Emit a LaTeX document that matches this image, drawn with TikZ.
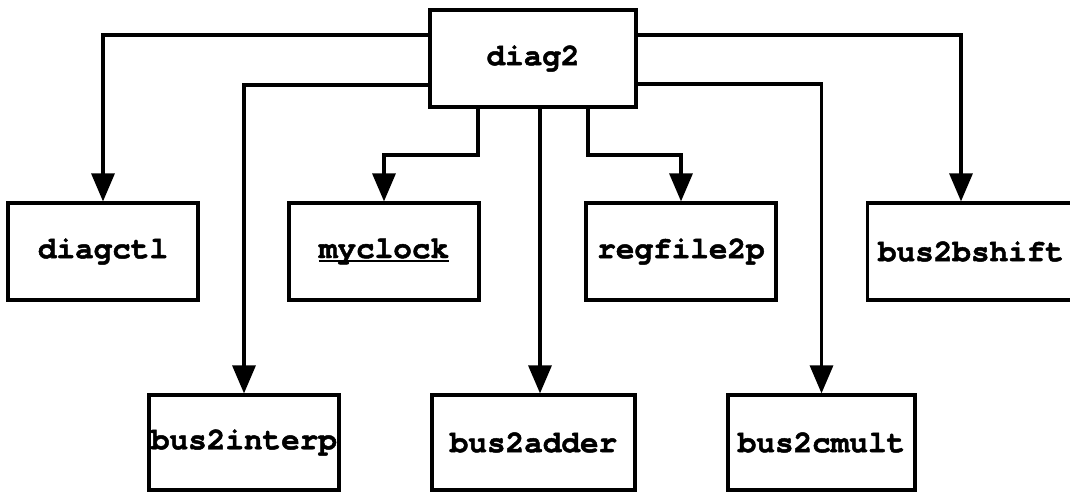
\documentclass[tikz,border=0pt]{standalone}
\usepackage{fontspec}
\setmonofont{texgyrecursor}[Extension=.otf, UprightFont=*-regular, BoldFont=*-bold,
	BoldFeatures={FakeBold=1.5}, Ligatures=NoCommon]
\usetikzlibrary{arrows.meta}
% underline sitting close to the baseline
\newcommand\ulname[1]{\setbox0\hbox{#1}\rlap{\rule[-2pt]{\wd0}{0.8pt}}\box0}
\begin{document}
\begin{tikzpicture}[x=0.5pt,y=-0.5pt,
	block/.style={draw, line width=1.6pt, inner sep=0pt, minimum width=95pt, minimum height=48.5pt,
		font=\fontsize{15.5}{18}\selectfont\ttfamily\bfseries},
	link/.style={line width=1.6pt, -{Triangle[length=14pt,width=11.5pt]}}]
	\useasboundingbox (0,0) rectangle (1070,493);
	% top level
	\node[block, minimum width=103pt] (diag2) at (533,58.5) {diag2};
	% first row
	\node[block] (diagctl) at (103,251.5) {diagctl};
	\node[block] (myclock) at (384,251.5) {\ulname{myclock}};
	\node[block] (regfile) at (681,251.5) {regfile2p};
	\node[block, minimum width=103.5pt] (bshift) at (971,251.5) {bus2bshift};
	% second row
	\node[block, minimum height=47.5pt] (interp) at (244,442.5) {bus2interp};
	\node[block, minimum height=47.5pt, minimum width=101.5pt] (adder) at (533.5,442.5) {bus2adder};
	\node[block, minimum height=47.5pt, minimum width=93.5pt] (cmult) at (821.5,442.5) {bus2cmult};
	% connections
	\draw[link] (diag2.west |- 0,35) -| (diagctl.north);
	\draw[link] (diag2.west |- 0,85) -| (interp.north);
	\draw[link] (diag2.south -| 478,0) -- (478,155) -| (myclock.north);
	\draw[link] (diag2.south -| 540,0) -- (adder.north -| 540,0);
	\draw[link] (diag2.south -| 588,0) -- (588,155) -| (regfile.north);
	\draw[link] (diag2.east |- 0,35) -| (bshift.north -| 961,0);
	\draw[link] (diag2.east |- 0,84) -| (cmult.north);
\end{tikzpicture}
\end{document}
